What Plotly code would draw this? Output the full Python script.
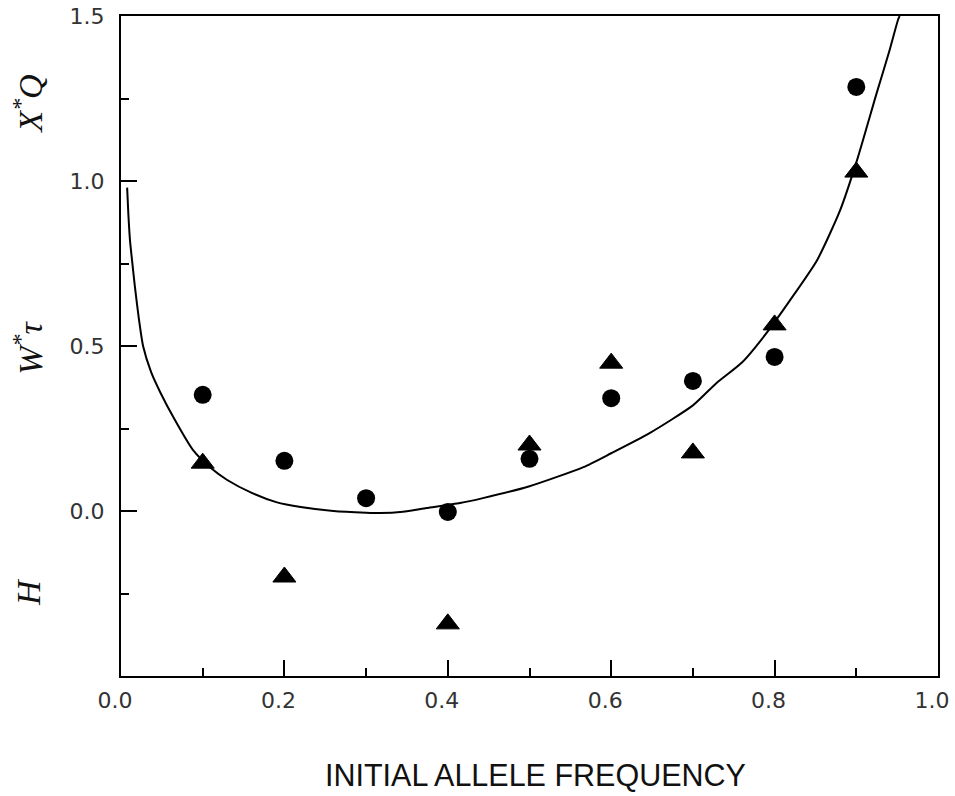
import plotly.graph_objects as go

# Observed points (initial allele frequency)
freq = [0.1, 0.2, 0.3, 0.4, 0.5, 0.6, 0.7, 0.8, 0.9]
circle_vals = [0.352, 0.152, 0.039, -0.003, 0.158, 0.342, 0.394, 0.467, 1.285]

tri_freq = [0.1, 0.2, 0.4, 0.5, 0.6, 0.7, 0.8, 0.9]
tri_vals = [0.145, -0.200, -0.342, 0.200, 0.448, 0.176, 0.564, 1.027]

# Theoretical curve
curve_x = [0.0075, 0.009, 0.011, 0.0135, 0.017, 0.022, 0.027, 0.037, 0.048, 0.065,
           0.088, 0.11, 0.13, 0.16, 0.19, 0.22, 0.26, 0.30, 0.317, 0.345,
           0.374, 0.415, 0.443, 0.50, 0.566, 0.60, 0.647, 0.70, 0.729, 0.76,
           0.790, 0.819, 0.852, 0.88, 0.901, 0.925, 0.94, 0.951, 0.953]
curve_y = [0.98, 0.90, 0.82, 0.76, 0.68, 0.58, 0.50, 0.42, 0.36, 0.28,
           0.185, 0.13, 0.094, 0.055, 0.027, 0.012, 0.0, -0.005, -0.006, -0.002,
           0.009, 0.024, 0.039, 0.075, 0.133, 0.175, 0.236, 0.32, 0.388, 0.45,
           0.539, 0.639, 0.76, 0.91, 1.064, 1.267, 1.39, 1.488, 1.5]

x_ticks = [0.0, 0.2, 0.4, 0.6, 0.8, 1.0]
x_ticktext = ["0.0", "0.2", "0.4", "0.6", "0.8", "1.0"]
x_minor = [0.1, 0.3, 0.5, 0.7, 0.9]
y_ticks = [0.0, 0.5, 1.0, 1.5]
y_ticktext = ["0.0", "0.5", "1.0", "1.5"]
y_minor = [-0.25, 0.25, 0.75, 1.25]

x_title = "INITIAL ALLELE FREQUENCY"
y_labels = ["X<sup>*</sup>Q", "W<sup>*</sup>τ", "H"]

fig = go.Figure()
fig.add_trace(go.Scatter(x=curve_x, y=curve_y, mode="lines",
                         line=dict(color="black", width=2, shape="spline", smoothing=0.6),
                         hoverinfo="skip"))
fig.add_trace(go.Scatter(x=freq, y=circle_vals, mode="markers",
                         marker=dict(symbol="circle", size=18, color="black")))
fig.add_trace(go.Scatter(x=tri_freq, y=tri_vals, mode="markers",
                         marker=dict(symbol="triangle-up", size=20, color="black",
                                     line=dict(color="black", width=1))))

tickfont = dict(family="DejaVu Sans, Arial, sans-serif", size=22, color="#333")

fig.update_xaxes(range=[0, 1], showline=True, linecolor="black", linewidth=2,
                 mirror=True, showgrid=False, zeroline=False,
                 ticks="inside", ticklen=16, tickwidth=2, tickcolor="black",
                 tickvals=x_ticks, ticktext=x_ticktext, tickfont=tickfont,
                 ticklabelstandoff=4, ticklabelshift=-6, ticklabeloverflow="allow",
                 minor=dict(tickvals=x_minor, ticklen=8, tickwidth=2,
                            tickcolor="black", ticks="inside"))
fig.update_yaxes(range=[-0.5, 1.5], showline=True, linecolor="black", linewidth=2,
                 mirror=True, showgrid=False, zeroline=False,
                 ticks="inside", ticklen=16, tickwidth=2, tickcolor="black",
                 tickvals=y_ticks, ticktext=y_ticktext, tickfont=tickfont,
                 ticklabelstandoff=10, ticklabeloverflow="allow",
                 minor=dict(tickvals=y_minor, ticklen=8, tickwidth=2,
                            tickcolor="black", ticks="inside"))

# x-axis title
fig.add_annotation(text=x_title, xref="paper", yref="paper", x=0.507, y=-0.15,
                   xanchor="center", yanchor="middle", showarrow=False,
                   font=dict(family="Liberation Sans, Arial, sans-serif",
                             size=30.5, color="#111"))

# stacked y-axis labels
label_pos = [0.867, 0.497, 0.127]
for txt, yp in zip(y_labels, label_pos):
    fig.add_annotation(text=txt, xref="paper", yref="paper", x=-0.114, y=yp,
                       xanchor="center", yanchor="middle", textangle=-90,
                       showarrow=False,
                       font=dict(family="Liberation Serif, Times New Roman, serif",
                                 size=34, color="#111", style="italic"))

fig.update_layout(width=955, height=796, showlegend=False,
                  plot_bgcolor="white", paper_bgcolor="white",
                  margin=dict(l=121, r=17, t=16, b=120, autoexpand=False))

fig.write_html("out.html")
